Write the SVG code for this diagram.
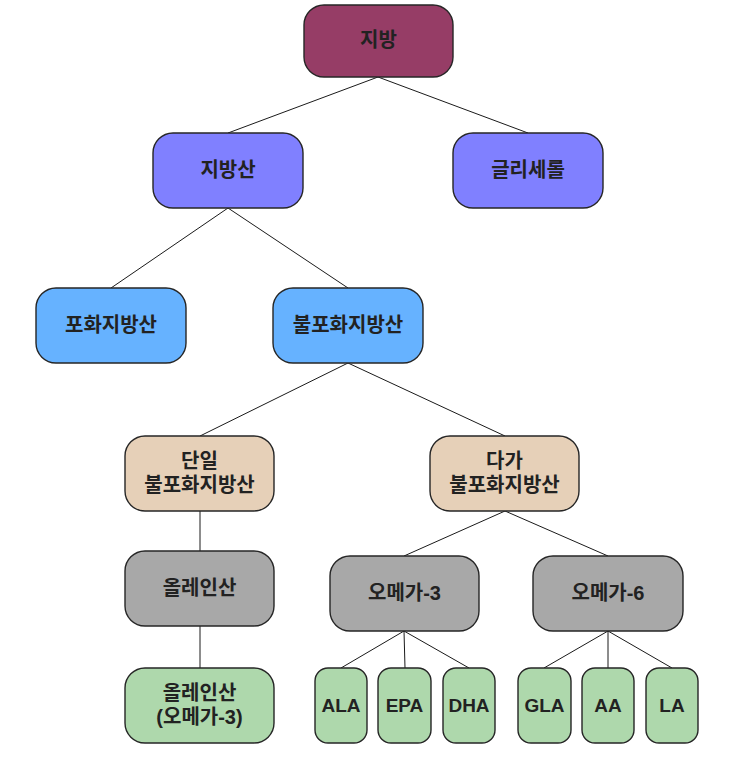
<svg xmlns="http://www.w3.org/2000/svg" width="751" height="766" viewBox="0 0 751 766">
<style>
.n{stroke:#262626;stroke-width:1.4}
.t{font-family:"Liberation Sans","Noto Sans CJK KR",sans-serif;font-weight:bold;font-size:20px;fill:#222;text-anchor:middle;dominant-baseline:central}
.l{font-size:19px}
.c{stroke:#1a1a1a;stroke-width:1;fill:none}
</style>
<rect width="751" height="766" fill="#fff"/>
<g id="connectors">
<line class="c" x1="378" y1="77" x2="228" y2="133"/>
<line class="c" x1="378" y1="77" x2="528" y2="133"/>
<line class="c" x1="228" y1="208" x2="111" y2="288"/>
<line class="c" x1="228" y1="208" x2="348" y2="288"/>
<line class="c" x1="348" y1="363" x2="200" y2="436"/>
<line class="c" x1="348" y1="363" x2="505" y2="436"/>
<line class="c" x1="200" y1="511" x2="200" y2="551"/>
<line class="c" x1="200" y1="626" x2="200" y2="668"/>
<line class="c" x1="505" y1="511" x2="404" y2="556"/>
<line class="c" x1="505" y1="511" x2="608" y2="556"/>
<line class="c" x1="404" y1="631" x2="341" y2="668"/>
<line class="c" x1="404" y1="631" x2="405" y2="668"/>
<line class="c" x1="404" y1="631" x2="469" y2="668"/>
<line class="c" x1="608" y1="631" x2="544" y2="668"/>
<line class="c" x1="608" y1="631" x2="608" y2="668"/>
<line class="c" x1="608" y1="631" x2="672" y2="668"/>
</g>
<g id="n-fat"><rect class="n" x="304" y="5" width="149" height="72" rx="20" fill="#963D66"/><text class="t" x="378.5" y="40">지방</text></g>
<g id="n-fattyacid"><rect class="n" x="153" y="133" width="150" height="75" rx="20" fill="#8080FF"/><text class="t" x="228" y="170">지방산</text></g>
<g id="n-glycerol"><rect class="n" x="453" y="133" width="150" height="75" rx="20" fill="#8080FF"/><text class="t" x="528" y="170">글리세롤</text></g>
<g id="n-saturated"><rect class="n" x="36" y="288" width="150" height="75" rx="20" fill="#66B2FF"/><text class="t" x="111" y="325">포화지방산</text></g>
<g id="n-unsaturated"><rect class="n" x="273" y="288" width="150" height="75" rx="20" fill="#66B2FF"/><text class="t" x="348" y="325">불포화지방산</text></g>
<g id="n-mufa"><rect class="n" x="125" y="436" width="149" height="75" rx="20" fill="#E6D0B8"/><text class="t" x="199.5" y="461">단일</text><text class="t" x="199.5" y="485">불포화지방산</text></g>
<g id="n-pufa"><rect class="n" x="430" y="436" width="149" height="75" rx="20" fill="#E6D0B8"/><text class="t" x="504.5" y="461">다가</text><text class="t" x="504.5" y="485">불포화지방산</text></g>
<g id="n-oleic"><rect class="n" x="125" y="551" width="149" height="75" rx="20" fill="#A8A8A8"/><text class="t" x="199.5" y="588">올레인산</text></g>
<g id="n-omega3"><rect class="n" x="330" y="556" width="149" height="75" rx="20" fill="#A8A8A8"/><text class="t" x="404.5" y="593">오메가-3</text></g>
<g id="n-omega6"><rect class="n" x="533" y="556" width="150" height="75" rx="20" fill="#A8A8A8"/><text class="t" x="608" y="593">오메가-6</text></g>
<g id="n-oleic3"><rect class="n" x="125" y="668" width="149" height="75" rx="20" fill="#AED8AC"/><text class="t" x="199.5" y="693">올레인산</text><text class="t" x="199.5" y="717">(오메가-3)</text></g>
<g id="n-ala"><rect class="n" x="315" y="668" width="52" height="75" rx="13" fill="#AED8AC"/><text class="t l" x="341" y="705">ALA</text></g>
<g id="n-epa"><rect class="n" x="378" y="668" width="53" height="75" rx="13" fill="#AED8AC"/><text class="t l" x="404.5" y="705">EPA</text></g>
<g id="n-dha"><rect class="n" x="443" y="668" width="52" height="75" rx="13" fill="#AED8AC"/><text class="t l" x="469" y="705">DHA</text></g>
<g id="n-gla"><rect class="n" x="518" y="668" width="53" height="75" rx="13" fill="#AED8AC"/><text class="t l" x="544.5" y="705">GLA</text></g>
<g id="n-aa"><rect class="n" x="582" y="668" width="52" height="75" rx="13" fill="#AED8AC"/><text class="t l" x="608" y="705">AA</text></g>
<g id="n-la"><rect class="n" x="646" y="668" width="52" height="75" rx="13" fill="#AED8AC"/><text class="t l" x="672" y="705">LA</text></g>
</svg>
